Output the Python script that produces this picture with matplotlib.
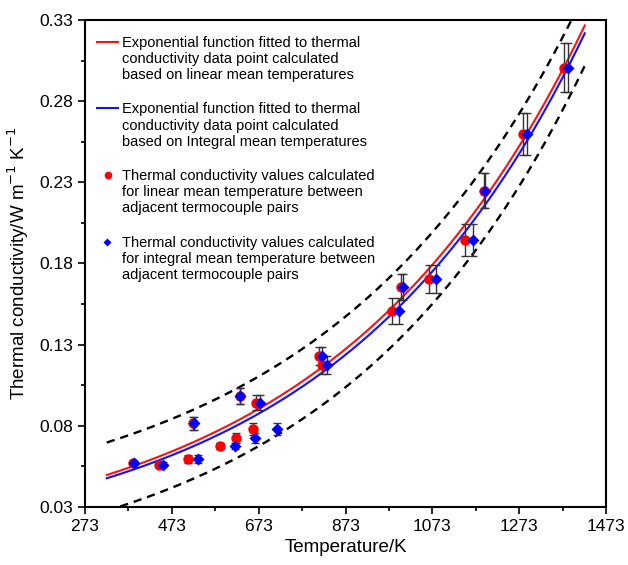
import numpy as np
import matplotlib.pyplot as plt
from matplotlib.lines import Line2D

plt.rcParams['font.family'] = ['Liberation Sans', 'DejaVu Sans']

# measured points, linear mean temperature (red)
T_lin = [384, 444, 511, 522, 584, 620, 629, 660, 666, 811, 819, 981, 1001, 1065, 1148, 1191, 1281, 1377]
k_lin = [0.0571, 0.0559, 0.0596, 0.0816, 0.0676, 0.0723, 0.0984, 0.0779, 0.0943, 0.1232, 0.1175,
         0.1508, 0.1654, 0.1703, 0.1945, 0.2249, 0.2598, 0.3007]
# integral mean temperature (blue)
T_int = [386, 453, 534, 524, 619, 665, 631, 715, 675, 819, 831, 996, 1006, 1081, 1166, 1194, 1292, 1386]
k_int = [0.0571, 0.0559, 0.0596, 0.0816, 0.0676, 0.0723, 0.0984, 0.0782, 0.0943, 0.1232, 0.1175,
         0.1508, 0.1654, 0.1703, 0.1945, 0.2249, 0.2598, 0.3007]
k_err = [0.0015, 0.0015, 0.0025, 0.004, 0.002, 0.003, 0.005, 0.0036, 0.0046, 0.0056, 0.0056,
         0.008, 0.008, 0.0087, 0.010, 0.011, 0.013, 0.015]

# fitted exponentials k = a*exp(b*T)
a_lin, b_lin = 0.02861, 0.00171
a_int, b_int = 0.02724, 0.001734
band = 0.02
T_fit = np.linspace(323, 1424, 300)

labels = ['Exponential function fitted to thermal\nconductivity data point calculated\nbased on linear mean temperatures',
          'Exponential function fitted to thermal\nconductivity data point calculated\nbased on Integral mean temperatures',
          'Thermal conductivity values calculated\nfor linear mean temperature between\nadjacent termocouple pairs',
          'Thermal conductivity values calculated\nfor integral mean temperature between\nadjacent termocouple pairs']

fig = plt.figure(figsize=(6.28, 5.65), dpi=100)
ax = fig.add_axes([0.1354, 0.1027, 0.8296, 0.8619])

k_fit_lin = a_lin * np.exp(b_lin * T_fit)
k_fit_int = a_int * np.exp(b_int * T_fit)

ax.plot(T_fit, k_fit_lin + band, color='black', ls=(0, (3.5, 2.5)), lw=1.7)
ax.plot(T_fit, k_fit_int - band, color='black', ls=(0, (3.5, 2.5)), lw=1.7)
ax.plot(T_fit, k_fit_lin, color='#ff1010', lw=1.5)
ax.plot(T_fit, k_fit_int, color='#1010ff', lw=1.5)

ax.errorbar(T_lin, k_lin, yerr=k_err, fmt='none', ecolor='#333333', elinewidth=1, capsize=3, capthick=1)
ax.errorbar(T_int, k_int, yerr=k_err, fmt='none', ecolor='#333333', elinewidth=1, capsize=3, capthick=1)
ax.plot(T_lin, k_lin, 'o', color='#ff0000', ms=7.5, mec='none')
ax.plot(T_int, k_int, 'D', color='#0000ff', ms=6.3, mec='none')

ax.set_xlim(273, 1473)
ax.set_ylim(0.03, 0.33)
ax.set_xticks([273, 473, 673, 873, 1073, 1273, 1473])
ax.set_xticks(np.arange(373, 1473, 200), minor=True)
ax.set_yticks([0.03, 0.08, 0.13, 0.18, 0.23, 0.28, 0.33])
ax.set_yticks(np.arange(0.055, 0.33, 0.05), minor=True)
ax.tick_params(which='both', direction='out', labelsize=12.5, width=1.2)
ax.tick_params(which='major', length=5)
ax.tick_params(which='minor', length=3)
ax.yaxis.set_major_formatter(plt.FuncFormatter(lambda v, p: f'{v:.2f}'))
for s in ax.spines.values():
    s.set_linewidth(1.5)

ax.set_xlabel('Temperature/K', fontsize=13.5, labelpad=4)
ax.set_ylabel('Thermal conductivity/W m$^{-1}$ K$^{-1}$', fontsize=13.5, labelpad=6)

# legend drawn by hand: handle sits beside the first line of each label
tr = ax.transAxes
entry_y = [0.9548, 0.8183, 0.6817, 0.5441]
for i, (lab, y) in enumerate(zip(labels, entry_y)):
    if i == 0:
        ax.add_line(Line2D([0.023, 0.0633], [y, y], color='#ff1010', lw=1.5, transform=tr))
    elif i == 1:
        ax.add_line(Line2D([0.023, 0.0633], [y, y], color='#1010ff', lw=1.5, transform=tr))
    elif i == 2:
        ax.add_line(Line2D([0.0435], [y], marker='o', color='#ff0000', ms=5.5, mec='none', transform=tr))
    else:
        ax.add_line(Line2D([0.0415], [y], marker='D', color='#0000ff', ms=4, mec='none', transform=tr))
    ax.text(0.0710, y + 0.0125, lab, transform=tr, fontsize=10.5, va='top', ha='left', linespacing=1.2)

fig.savefig('out.png', dpi=100)
